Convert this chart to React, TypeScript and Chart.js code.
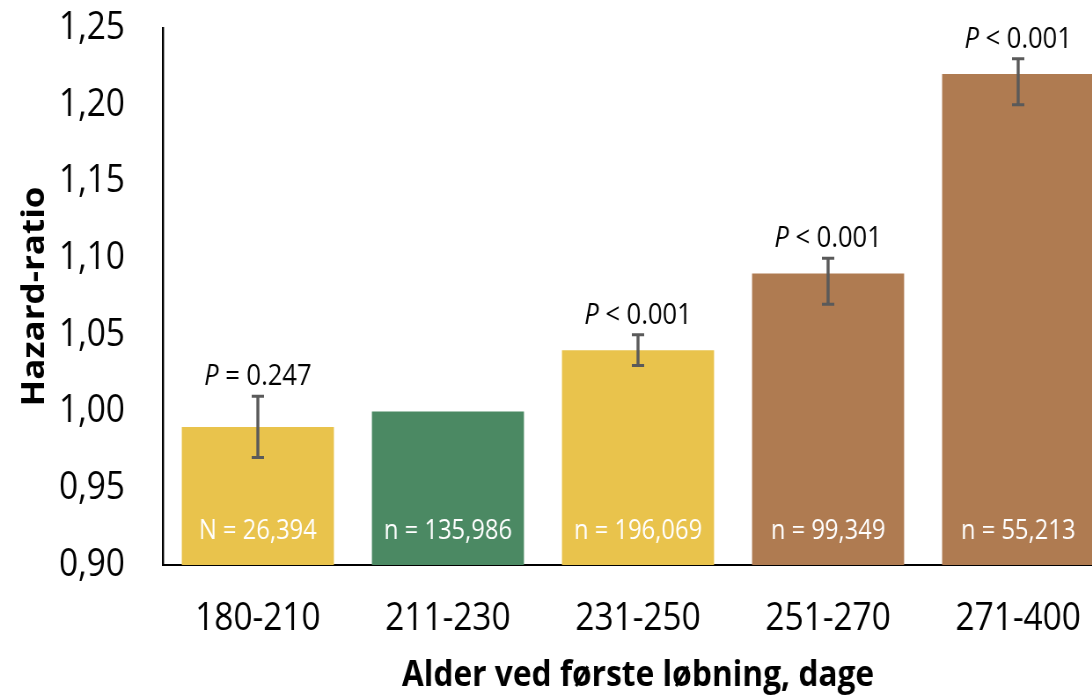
import React, { useEffect, useRef } from "react";
import { Chart, registerables } from "chart.js";

Chart.register(...registerables);

// ---- data ----
const categories = ["180-210", "211-230", "231-250", "251-270", "271-400"];
const hazardRatios = [0.99, 1.0, 1.04, 1.09, 1.22];
const errorLow: (number | null)[] = [0.97, null, 1.03, 1.07, 1.2];
const errorHigh: (number | null)[] = [1.01, null, 1.05, 1.1, 1.23];
const pOperators: (string | null)[] = ["=", null, "<", "<", "<"];
const pValues: (string | null)[] = ["0.247", null, "0.001", "0.001", "0.001"];
const countLabels = ["N = 26,394", "n = 135,986", "n = 196,069", "n = 99,349", "n = 55,213"];
const barColors = ["#E9C34C", "#4B8963", "#E9C34C", "#AF7B51", "#AF7B51"];
const yMin = 0.9;
const yMax = 1.25;
const yStep = 0.05;
const yTitle = "Hazard-ratio";
const xTitle = "Alder ved første løbning, dage";

// ---- layout (logical canvas units, canvas squeezed horizontally) ----
const SX = 0.88;
const W = 1290;
const H = 699;
const FONT = '"Open Sans", "Liberation Sans", sans-serif';

const overlayPlugin = {
  id: "overlay",
  afterDatasetsDraw(chart: any) {
    const { ctx, scales } = chart;
    const xs = scales.x;
    const ys = scales.y;
    ctx.save();
    // error bars
    ctx.strokeStyle = "#5A5A5A";
    for (let i = 0; i < categories.length; i++) {
      const lo = errorLow[i];
      const hi = errorHigh[i];
      if (lo == null || hi == null) continue;
      const x = xs.getPixelForValue(i);
      const yl = ys.getPixelForValue(lo);
      const yh = ys.getPixelForValue(hi);
      ctx.lineWidth = 3.4;
      ctx.beginPath();
      ctx.moveTo(x, yl);
      ctx.lineTo(x, yh);
      ctx.stroke();
      ctx.lineWidth = 3;
      ctx.beginPath();
      ctx.moveTo(x - 7, yh);
      ctx.lineTo(x + 7, yh);
      ctx.moveTo(x - 7, yl);
      ctx.lineTo(x + 7, yl);
      ctx.stroke();
    }
    // P labels
    ctx.fillStyle = "#000";
    ctx.textBaseline = "alphabetic";
    ctx.textAlign = "left";
    for (let i = 0; i < categories.length; i++) {
      const hi = errorHigh[i];
      const op = pOperators[i];
      const pv = pValues[i];
      if (hi == null || op == null || pv == null) continue;
      const x = xs.getPixelForValue(i);
      const y = ys.getPixelForValue(hi) - 11;
      const italic = `italic 29px ${FONT}`;
      const normal = `29px ${FONT}`;
      ctx.font = italic;
      const wP = ctx.measureText("P").width;
      ctx.font = normal;
      const rest = ` ${op} ${pv}`;
      const wR = ctx.measureText(rest).width;
      const x0 = x - (wP + wR) / 2;
      ctx.font = italic;
      ctx.fillText("P", x0, y);
      ctx.font = normal;
      ctx.fillText(rest, x0 + wP, y);
    }
    // count labels inside bars
    ctx.fillStyle = "#FFFFFF";
    ctx.textAlign = "center";
    ctx.font = `27px ${FONT}`;
    const base = ys.getPixelForValue(yMin);
    for (let i = 0; i < categories.length; i++) {
      const x = xs.getPixelForValue(i);
      ctx.fillText(countLabels[i], x, base - 26);
    }
    ctx.restore();
  },
};

function ChartView() {
  const ref = useRef<HTMLCanvasElement | null>(null);
  useEffect(() => {
    let chart: Chart | null = null;
    let cancelled = false;
    const make = () => {
      if (cancelled || !ref.current) return;
      chart = new Chart(ref.current, {
        type: "bar",
        data: {
          labels: categories,
          datasets: [
            {
              data: hazardRatios,
              backgroundColor: barColors,
              borderWidth: 0,
              barPercentage: 0.8,
              categoryPercentage: 1.0,
            },
          ],
        },
        options: {
          responsive: false,
          animation: false,
          devicePixelRatio: 1,
          layout: { padding: { top: 28, right: W - 1265, left: 0, bottom: 0 } },
          plugins: {
            legend: { display: false },
            tooltip: { enabled: false },
          },
          scales: {
            x: {
              grid: { display: false, drawTicks: false },
              border: { display: true, color: "#000", width: 2 },
              ticks: {
                color: "#000",
                font: { family: FONT, size: 38, lineHeight: 1.2 },
                padding: 31,
                maxRotation: 0,
              },
              title: {
                display: true,
                text: xTitle,
                color: "#000",
                font: { family: FONT, size: 36, weight: "bold", lineHeight: 1.2 },
                padding: { top: 0, bottom: 2 },
              },
              afterFit: (s: any) => {
                s.height = H - 565;
                s.paddingLeft = 0;
                s.paddingRight = 0;
              },
            },
            y: {
              min: yMin,
              max: yMax,
              grid: { display: false, drawTicks: false },
              border: { display: true, color: "#000", width: 2.4 },
              ticks: {
                stepSize: yStep,
                color: "#000",
                font: { family: FONT, size: 38, lineHeight: 1.2 },
                padding: 43,
                callback: (v: any) => Number(v).toFixed(2).replace(".", ","),
              },
              title: {
                display: true,
                text: yTitle,
                color: "#000",
                font: { family: FONT, size: 35, weight: "bold", lineHeight: 1.2 },
                padding: { top: 19, bottom: 0 },
              },
              afterFit: (s: any) => {
                s.width = 185;
                s.paddingTop = 0;
                s.paddingBottom = 0;
              },
            },
          },
        },
        plugins: [overlayPlugin],
      });
    };
    const fontsReady = (document as any).fonts
      ? Promise.all([
          (document as any).fonts.load(`38px ${FONT}`),
          (document as any).fonts.load(`bold 35px ${FONT}`),
          (document as any).fonts.load(`italic 29px ${FONT}`),
        ]).catch(() => null)
      : Promise.resolve(null);
    fontsReady.then(make);
    return () => {
      cancelled = true;
      if (chart) chart.destroy();
    };
  }, []);
  return (
    <canvas
      ref={ref}
      width={W}
      height={H}
      style={{
        position: "absolute",
        left: 0,
        top: 0,
        width: W,
        height: H,
        transform: `scaleX(${SX})`,
        transformOrigin: "0 0",
      }}
    />
  );
}

export default function App() {
  return (
    <div
      style={{
        position: "fixed",
        left: 0,
        top: 0,
        width: 1092,
        height: 699,
        overflow: "hidden",
        background: "#fff",
      }}
    >
      <ChartView />
    </div>
  );
}
